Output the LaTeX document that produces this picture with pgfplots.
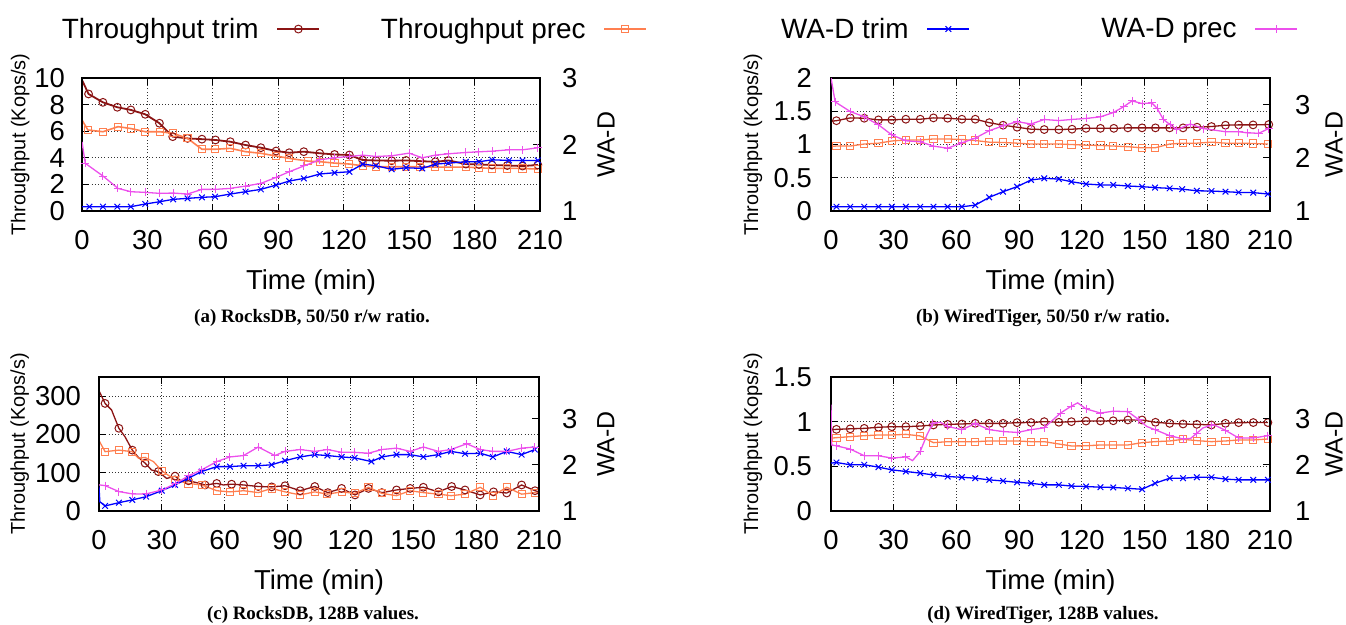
\documentclass[border=0pt]{standalone}
\usepackage{fontspec}
\setmainfont{Liberation Sans}
\newfontfamily\capfont{Liberation Serif}
\usepackage{pgfplots}
\pgfplotsset{compat=1.18}
\definecolor{trimc}{RGB}{139,20,20}
\definecolor{precc}{RGB}{255,127,80}
\definecolor{wtrimc}{RGB}{0,0,255}
\definecolor{wprecc}{RGB}{236,80,236}
\newcommand{\tickfont}{\fontsize{27.5}{30}\selectfont}
\pgfplotsset{
  tt/.style={trimc, line width=1.3bp, mark=o, mark size=3.9bp, mark options={solid, line width=1bp}},
  tp/.style={precc, line width=1.3bp, mark=square, mark size=3.6bp, mark options={solid, line width=1bp}},
  wt/.style={wtrimc, line width=1.3bp, mark=x, mark size=4bp, mark options={solid, line width=1bp}},
  wp/.style={wprecc, line width=1.3bp, mark=+, mark size=4bp, mark options={solid, line width=1bp}},
  panel/.style={scale only axis, anchor=south west, xmin=0, xmax=210, xtick={0,30,...,210},
    tick align=inside, major tick length=7bp, axis line style={line width=1.3bp},
    every tick/.style={black, line width=1bp},
    /pgf/number format/assume math mode=true,
    ticklabel style={font=\tickfont, inner sep=0pt},
    xticklabel style={yshift=-19bp},
    legend style={draw=none, fill=none, inner sep=0pt, outer sep=0pt, font=\fontsize{28}{30}\selectfont, nodes={inner sep=0pt}, column sep=18bp, anchor=east},
    legend plot pos=right,
    legend image code/.code={\draw[mark repeat=2,mark phase=2,##1] plot coordinates {(0bp,0bp) (21bp,0bp) (42bp,0bp)};},
    clip=true},
  leftax/.style={panel, ytick pos=left, grid=major,
    grid style={black!80, line width=0.9bp, dash pattern=on 1bp off 2.2bp},
    xlabel={Time (min)}, ylabel={Throughput (Kops/s)},
    xlabel style={font=\fontsize{27.5}{30}\selectfont, anchor=center},
    ylabel style={font=\fontsize{20}{22}\selectfont, anchor=center}},
  rightax/.style={panel, ytick pos=right, yticklabel pos=right, xtick=\empty,
    ylabel={WA-D}, ylabel style={font=\fontsize{25}{27}\selectfont, anchor=center}},
}
\begin{document}
\begin{tikzpicture}
\useasboundingbox (0,0) rectangle (1346bp,625bp);
% ---------------- (a) ----------------
\begin{axis}[leftax, at={(82bp,414bp)}, width=458bp, height=133bp,
  ymin=0, ymax=10, ytick={0,2,...,10}, yticklabel style={xshift=-17bp},
  xlabel style={at={(axis description cs:0.5,-0.538)}},
  ylabel style={at={(axis description cs:-0.135,0.5)}},
  legend style={at={(0.5197,1.368)}}]
\addlegendimage{tt}\addlegendentry{Throughput trim}
\addplot[tt, line width=1.8bp, mark phase=2] coordinates {(0,9.85) (3,8.8) (9.6,8.17) (16.2,7.8) (22.4,7.6) (29,7.27) (35.5,6.6) (41.6,5.59) (48.4,5.46) (55,5.4) (61.2,5.34) (68,5.21) (75,4.96) (82,4.76) (89,4.51) (95,4.38) (101.7,4.46) (109,4.34) (115.8,4.25) (122.6,4.21) (128.7,3.83) (134.8,3.8) (142,3.78) (148.6,3.8) (155,3.75) (162,3.7) (168,3.8) (176,3.53) (182,3.5) (188,3.46) (195,3.42) (202,3.38) (209,3.46)};
\addplot[tp, line width=1.6bp, mark phase=2] coordinates {(0,6.84) (2.7,6.09) (9.6,5.96) (16.5,6.34) (22.4,6.2) (29,5.96) (35.7,5.96) (41.8,5.84) (48.4,5.46) (55,4.64) (61,4.64) (68,4.71) (75,4.46) (82,4.34) (89,4.13) (95,3.96) (103.6,3.75) (109,3.71) (115.8,3.6) (122.6,3.53) (128.7,3.4) (134.8,3.33) (142,3.33) (148.6,3.33) (155,3.32) (162,3.3) (168,3.3) (176,3.3) (182,3.25) (188,3.2) (195,3.2) (202,3.2) (209,3.15)};
\end{axis}
\begin{axis}[rightax, at={(82bp,414bp)}, width=458bp, height=133bp,
  ymin=1, ymax=3, ytick={1,2,3}, yticklabel style={xshift=22bp},
  ylabel style={at={(axis description cs:1.144,0.5)}},
  legend style={at={(1.2336,1.368)}}]
\addlegendimage{tp}\addlegendentry{Throughput prec}
\addplot[wt, mark phase=2] coordinates {(0,1.065) (3.4,1.065) (9.6,1.065) (16.2,1.065) (22.4,1.065) (29,1.105) (35.7,1.14) (41.8,1.175) (48.4,1.19) (55,1.205) (61,1.215) (68,1.255) (75,1.29) (82,1.325) (89,1.39) (95,1.45) (101.7,1.49) (109,1.556) (115.8,1.575) (122.6,1.59) (128.7,1.705) (134.8,1.68) (142,1.627) (148.6,1.65) (156,1.64) (162,1.705) (168,1.72) (176,1.74) (182,1.74) (188,1.77) (195.8,1.76) (202,1.76) (209,1.76)};
\addplot[wp, mark phase=2] coordinates {(0,2.04) (1.5,1.717) (9.6,1.526) (16.5,1.34) (22.4,1.29) (29,1.28) (35.7,1.265) (41.8,1.27) (48.4,1.255) (55,1.325) (61,1.325) (68,1.34) (75,1.375) (82,1.415) (89,1.505) (95,1.59) (101.7,1.677) (109,1.77) (115.8,1.8) (122.6,1.82) (128.7,1.84) (134.8,1.82) (142,1.83) (150,1.87) (156,1.8) (162,1.84) (168,1.86) (176,1.88) (182,1.89) (188,1.9) (195.8,1.92) (202,1.92) (209,1.95)};
\end{axis}
% ---------------- (b) ----------------
\begin{axis}[leftax, at={(831bp,414bp)}, width=439bp, height=133bp,
  ymin=0, ymax=2, ytick={0,0.5,...,2}, yticklabel style={xshift=-19bp},
  xlabel style={at={(axis description cs:0.5,-0.538)}},
  ylabel style={at={(axis description cs:-0.178,0.5)}},
  legend style={at={(0.3166,1.368)}}]
\addlegendimage{wt}\addlegendentry{WA-D trim}
\addplot[tt, mark phase=2] coordinates {(0,1.35) (2.6,1.358) (9.2,1.40) (15.9,1.395) (22.7,1.37) (29.1,1.37) (35.8,1.38) (42.7,1.38) (49,1.40) (55.8,1.395) (62.6,1.38) (69,1.38) (75.7,1.328) (82.3,1.29) (89,1.26) (95.7,1.23) (102,1.225) (109,1.225) (115.3,1.23) (122,1.243) (128.9,1.243) (135.3,1.243) (142,1.25) (148.8,1.25) (155.2,1.25) (162,1.25) (168.4,1.25) (175.1,1.26) (182,1.27) (188.7,1.29) (195,1.295) (201.9,1.295) (209.4,1.30)};
\addplot[tp, mark phase=2] coordinates {(0,0.97) (2.6,0.977) (9.2,0.977) (15.9,1.007) (22.7,1.02) (29.1,1.053) (35.8,1.068) (42.7,1.068) (49,1.083) (55.8,1.083) (62.6,1.075) (69,1.06) (75.7,1.035) (82.3,1.03) (89,1.02) (95.7,1.007) (102,1.007) (109,1.007) (115,1.0) (122,0.99) (128.9,0.985) (135,0.977) (142,0.967) (148.8,0.95) (155,0.95) (162,1.007) (168.4,1.02) (175,1.02) (182,1.035) (188.7,1.02) (195,1.02) (202,1.015) (209,1.007)};
\end{axis}
\begin{axis}[rightax, at={(831bp,414bp)}, width=439bp, height=133bp,
  ymin=1, ymax=3.5, ytick={1,2,3}, yticklabel style={xshift=25bp},
  ylabel style={at={(axis description cs:1.146,0.5)}},
  legend style={at={(1.0638,1.368)}}]
\addlegendimage{wp}\addlegendentry{WA-D prec}
\addplot[wt, mark phase=2] coordinates {(0,1.08) (2.6,1.08) (9.2,1.08) (15.9,1.08) (22.7,1.08) (29.1,1.08) (35.8,1.08) (42.7,1.08) (49,1.08) (55.8,1.08) (62.6,1.08) (69,1.11) (75.7,1.257) (82.3,1.363) (89,1.457) (95.7,1.583) (102,1.614) (109,1.6) (115,1.55) (122,1.507) (128.9,1.49) (135,1.49) (142,1.47) (148.8,1.457) (155,1.44) (162,1.426) (168,1.41) (175,1.38) (182,1.375) (188.7,1.363) (195,1.35) (202,1.345) (209,1.32)};
\addplot[wp, mark phase=2] coordinates {(0,3.5) (2,3.05) (9.2,2.87) (15.9,2.77) (22.7,2.62) (29.1,2.43) (35.8,2.32) (42.7,2.3) (49,2.22) (55.8,2.18) (62.6,2.28) (69,2.37) (75.7,2.51) (82.3,2.6) (89,2.68) (95.7,2.635) (102,2.72) (109,2.7) (115,2.72) (122,2.74) (128.9,2.77) (135,2.85) (140,2.96) (144,3.07) (148.8,3.02) (153.5,3.03) (156,2.93) (159,2.72) (162.3,2.62) (165.5,2.53) (171.9,2.635) (178,2.55) (188.7,2.49) (195,2.49) (199,2.47) (204.6,2.46) (209.4,2.55)};
\end{axis}
% ---------------- (c) ----------------
\begin{axis}[leftax, at={(99bp,114bp)}, width=440bp, height=134bp,
  ymin=0, ymax=350, ytick={0,100,200,300}, yticklabel style={xshift=-18bp},
  xlabel style={at={(axis description cs:0.5,-0.534)}},
  ylabel style={at={(axis description cs:-0.18,0.5)}}]
\addplot[tt, no marks] coordinates {(0,314) (2.9,281) (6,264) (9.5,216) (12.4,194) (15.9,159) (18.8,140) (22,125) (25.1,107) (28.3,103) (32.3,85) (36.3,91) (39.5,77) (42.7,79) (46.6,74) (50.6,68) (56.2,72) (59.4,68) (63.3,70) (69,68) (76,64) (82.4,63) (88.8,66) (96,53) (103,64) (109.2,48) (115.8,59) (122.2,42) (128.6,59) (135,48) (142,55) (148.5,59) (154.8,62) (162,50) (168.3,64) (174.7,55) (181.9,42) (188.3,50) (194.6,47) (201.7,68) (208.1,53) (210,50)};
\addplot[tt, only marks] coordinates {(2.9,281) (9.5,216) (15.9,159) (22,125) (28.3,103) (36.3,91) (42.7,79) (50.6,68) (56.2,72) (63.3,70) (69,68) (76,64) (82.4,63) (88.8,66) (96,53) (103,64) (109.2,48) (115.8,59) (122.2,42) (128.6,59) (135,48) (142,55) (148.5,59) (154.8,62) (162,50) (168.3,64) (174.7,55) (181.9,42) (188.3,50) (194.6,47) (201.7,68) (208.1,53)};
\addplot[tp, no marks] coordinates {(0,184) (2.9,155) (9.5,159) (15.9,155) (18.8,138) (22,140) (26,129) (30,105) (36.3,81) (42.7,72) (49,68) (56.2,53) (62.5,50) (69,53) (76,48) (82.4,59) (88.8,50) (96,42) (103,50) (109,44) (115.8,50) (122,46) (128.6,62) (135,46) (142,40) (148.5,53) (154.8,48) (162,44) (168,40) (174.7,44) (182,62) (188,40) (194.6,62) (201.7,44) (208,48) (210,46)};
\addplot[tp, only marks] coordinates {(2.9,155) (9.5,159) (15.9,155) (22,140) (30,105) (36.3,81) (42.7,72) (49,68) (56.2,53) (62.5,50) (69,53) (76,48) (82.4,59) (88.8,50) (96,42) (103,50) (109,44) (115.8,50) (122,46) (128.6,62) (135,46) (142,40) (148.5,53) (154.8,48) (162,44) (168,40) (174.7,44) (182,62) (188,40) (194.6,62) (201.7,44) (208,48)};
\end{axis}
\begin{axis}[rightax, at={(99bp,114bp)}, width=440bp, height=134bp,
  ymin=1, ymax=3.9, ytick={1,2,3}, yticklabel style={xshift=23bp},
  ylabel style={at={(axis description cs:1.152,0.5)}}]
\addplot[wt, mark phase=3] coordinates {(0,1.53) (0.4,1.2) (2.9,1.11) (9.5,1.18) (15.9,1.24) (22.5,1.31) (30,1.44) (36.3,1.565) (42.7,1.71) (49,1.855) (56.2,1.96) (62.5,1.96) (69,1.98) (76,1.98) (82.4,2.0) (88.8,2.09) (96,2.17) (103,2.22) (109,2.2) (115.8,2.17) (122,2.15) (130,2.07) (135,2.17) (142,2.22) (148.5,2.22) (154.8,2.17) (162,2.22) (168,2.29) (174.7,2.24) (182,2.25) (188,2.17) (194.6,2.29) (201.7,2.22) (208,2.33)};
\addplot[wp, mark phase=2] coordinates {(0,1.565) (2.9,1.55) (9.5,1.42) (15.9,1.37) (22.5,1.37) (30,1.455) (36.3,1.587) (42.7,1.76) (49,1.89) (56.2,2.07) (62.5,2.17) (69,2.2) (76,2.385) (83.9,2.2) (88.8,2.29) (96,2.33) (103,2.29) (109,2.33) (115.8,2.27) (122,2.27) (128.6,2.25) (135,2.33) (142,2.36) (148.5,2.29) (154.8,2.385) (162,2.29) (168,2.33) (175.5,2.455) (182,2.33) (188,2.29) (194.6,2.29) (201.7,2.36) (208,2.385)};
\end{axis}
% ---------------- (d) ----------------
\begin{axis}[leftax, at={(831bp,114bp)}, width=439bp, height=134bp,
  ymin=0, ymax=1.5, ytick={0,0.5,1,1.5}, yticklabel style={xshift=-19bp},
  xlabel style={at={(axis description cs:0.5,-0.534)}},
  ylabel style={at={(axis description cs:-0.178,0.5)}}]
\addplot[tt, mark phase=2] coordinates {(0,0.91) (2.6,0.914) (9.2,0.92) (15.9,0.925) (22.7,0.937) (29.1,0.944) (35.8,0.944) (42.7,0.951) (49,0.963) (55.8,0.97) (62.6,0.974) (69,0.981) (75.7,0.981) (82.3,0.981) (89,0.989) (95.7,0.99) (102,1.0) (109,0.993) (115,1.0) (122,1.007) (128.9,1.007) (135,1.01) (142,1.019) (148.8,1.019) (155.2,0.993) (162,0.981) (168.4,0.974) (175,0.97) (182,0.963) (188.7,0.981) (195,0.989) (202,0.99) (209,0.99)};
\addplot[tp, mark phase=2] coordinates {(0,0.815) (2.6,0.821) (9.2,0.832) (15.9,0.843) (22.7,0.851) (29.1,0.851) (35.8,0.858) (42.7,0.84) (49,0.765) (55.8,0.776) (62.6,0.776) (69,0.776) (75.7,0.784) (82.3,0.784) (89,0.784) (95.7,0.776) (102,0.776) (109,0.75) (115,0.728) (122,0.73) (128.9,0.739) (135,0.739) (142,0.739) (148.8,0.765) (155,0.776) (162,0.784) (168.4,0.802) (175,0.788) (182,0.776) (188.7,0.784) (195,0.795) (202,0.795) (209,0.806)};
\end{axis}
\begin{axis}[rightax, at={(831bp,114bp)}, width=439bp, height=134bp,
  ymin=1, ymax=3.9, ytick={1,2,3}, yticklabel style={xshift=25bp},
  ylabel style={at={(axis description cs:1.146,0.5)}}]
\addplot[wt, mark phase=1] coordinates {(2.6,2.05) (9.2,2.0) (15.9,2.0) (22.7,1.95) (29.1,1.89) (35.8,1.855) (42.7,1.82) (49,1.78) (55.8,1.745) (62.6,1.73) (69,1.71) (75.7,1.674) (82.3,1.65) (89,1.62) (95.7,1.6) (102,1.565) (109,1.565) (115,1.54) (122,1.53) (128.9,1.515) (135,1.51) (142,1.49) (148.8,1.47) (155,1.6) (162,1.71) (168.4,1.71) (175,1.73) (182,1.73) (188.7,1.69) (195,1.674) (202,1.674) (209,1.674)};
\addplot[wt, no marks] coordinates {(0,2.036) (2.6,2.05)};
\addplot[wp, no marks] coordinates {(0,3.3) (0.3,2.43) (2.6,2.41) (9.2,2.34) (15.9,2.196) (22.7,2.196) (29.1,2.145) (35.8,2.17) (39,2.09) (42.7,2.29) (45.9,2.65) (48.7,2.9) (52.3,2.92) (55.8,2.83) (62.6,2.76) (69,2.89) (75.7,2.76) (82.3,2.72) (89,2.7) (95.7,2.76) (102,2.8) (109.8,3.12) (115,3.27) (118,3.34) (122,3.21) (128.9,3.12) (135,3.16) (142,3.15) (147.2,2.98) (151,2.83) (155,2.76) (162,2.63) (168.4,2.56) (172,2.57) (178,2.8) (183,2.87) (188.7,2.745) (195,2.58) (202,2.58) (209,2.63) (210,2.64)};
\addplot[wp, only marks] coordinates {(2.6,2.41) (9.2,2.34) (15.9,2.196) (22.7,2.196) (29.1,2.145) (35.8,2.17) (42.7,2.29) (48.7,2.9) (55.8,2.83) (62.6,2.76) (69,2.89) (75.7,2.76) (82.3,2.72) (89,2.7) (95.7,2.76) (102,2.8) (109.8,3.12) (115,3.27) (122,3.21) (128.9,3.12) (135,3.16) (142,3.15) (147.2,2.98) (155,2.76) (162,2.63) (168.4,2.56) (175,2.68) (182,2.85) (188.7,2.745) (195,2.58) (202,2.58) (209,2.63)};
\end{axis}
% captions
\node[font={\capfont\bfseries\fontsize{19}{21}\selectfont}] at (312bp,307bp) {(a) RocksDB, 50/50 r/w ratio.};
\node[font={\capfont\bfseries\fontsize{19}{21}\selectfont}] at (1043bp,307bp) {(b) WiredTiger, 50/50 r/w ratio.};
\node[font={\capfont\bfseries\fontsize{19}{21}\selectfont}] at (313bp,10bp) {(c) RocksDB, 128B values.};
\node[font={\capfont\bfseries\fontsize{19}{21}\selectfont}] at (1043bp,10bp) {(d) WiredTiger, 128B values.};
\end{tikzpicture}
\end{document}
